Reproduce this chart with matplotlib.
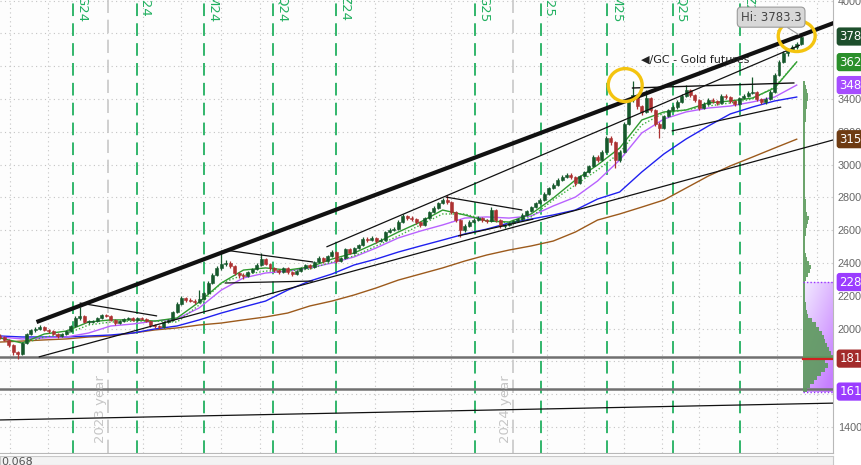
import numpy as np
import pandas as pd
import matplotlib
matplotlib.use('Agg')
import matplotlib.pyplot as plt
import matplotlib.dates as mdates
import matplotlib.transforms as mtransforms
from matplotlib.patches import Ellipse, Rectangle

plt.rcParams['font.family'] = ['DejaVu Sans']

# ---- data: /GC gold futures, 4-day candles ----
start = '2023-09-25'
first_open = 1955
closes = [1948, 1930, 1900, 1857, 1845, 1912, 1967, 1991, 1997, 2009,
          1991, 1985, 1967, 1954, 1967, 1985, 2015, 2064, 2076, 2040,
          2043, 2046, 2064, 2082, 2076, 2052, 2034, 2046, 2058, 2064,
          2052, 2064, 2060, 2046, 2021, 2015, 2009, 2040, 2052, 2101,
          2150, 2186, 2174, 2170, 2162, 2180, 2217, 2278, 2327, 2369,
          2394, 2398, 2381, 2339, 2327, 2322, 2345, 2363, 2388, 2424,
          2394, 2369, 2357, 2345, 2369, 2345, 2333, 2351, 2369, 2388,
          2375, 2406, 2430, 2412, 2442, 2467, 2412, 2430, 2485, 2461,
          2491, 2510, 2546, 2540, 2552, 2534, 2540, 2589, 2601, 2607,
          2650, 2686, 2674, 2668, 2650, 2631, 2674, 2711, 2735, 2766,
          2784, 2772, 2711, 2662, 2601, 2625, 2650, 2662, 2674, 2662,
          2656, 2723, 2662, 2625, 2631, 2644, 2656, 2668, 2693, 2717,
          2741, 2766, 2784, 2821, 2857, 2876, 2906, 2924, 2936, 2924,
          2888, 2930, 2955, 2991, 3046, 3028, 3077, 3162, 3138, 3028,
          3077, 3248, 3394, 3424, 3357, 3321, 3406, 3333, 3248, 3223,
          3296, 3333, 3351, 3382, 3418, 3455, 3424, 3394, 3345, 3370,
          3394, 3388, 3376, 3418, 3412, 3388, 3370, 3406, 3418, 3437,
          3443, 3400, 3382, 3400, 3443, 3546, 3626, 3681, 3699, 3717,
          3736, 3781]
highs = [1965, 1956, 1938, 1905, 1862, 1920, 1975, 2000, 2008, 2020,
         2015, 1998, 1992, 1972, 1975, 1993, 2022, 2075, 2131, 2085,
         2052, 2055, 2072, 2090, 2092, 2082, 2058, 2054, 2066, 2072,
         2070, 2071, 2073, 2066, 2050, 2028, 2020, 2046, 2060, 2110,
         2160, 2196, 2195, 2185, 2178, 2235, 2225, 2288, 2338, 2380,
         2479, 2420, 2410, 2388, 2348, 2340, 2352, 2372, 2398, 2460,
         2432, 2400, 2375, 2365, 2378, 2375, 2352, 2360, 2378, 2396,
         2395, 2415, 2440, 2436, 2450, 2478, 2472, 2438, 2494, 2492,
         2500, 2518, 2556, 2558, 2562, 2560, 2550, 2598, 2612, 2618,
         2660, 2700, 2692, 2685, 2676, 2656, 2682, 2720, 2745, 2775,
         2795, 2815, 2780, 2718, 2670, 2635, 2660, 2672, 2684, 2682,
         2670, 2740, 2728, 2668, 2640, 2652, 2664, 2676, 2702, 2726,
         2750, 2775, 2794, 2830, 2866, 2888, 2916, 2935, 2948, 2946,
         2930, 2938, 2964, 3000, 3060, 3058, 3088, 3175, 3172, 3145,
         3090, 3260, 3405, 3509, 3432, 3365, 3455, 3414, 3340, 3260,
         3305, 3342, 3362, 3392, 3428, 3486, 3462, 3430, 3400, 3380,
         3404, 3405, 3396, 3428, 3430, 3420, 3395, 3415, 3428, 3446,
         3534, 3450, 3408, 3410, 3452, 3558, 3640, 3692, 3712, 3728,
         3748, 3783.3]
lows = [1938, 1922, 1890, 1840, 1815, 1838, 1905, 1960, 1982, 1990,
        1984, 1975, 1958, 1945, 1948, 1960, 1978, 2010, 2055, 2032,
        2030, 2035, 2040, 2058, 2068, 2045, 2025, 2028, 2040, 2050,
        2044, 2046, 2052, 2038, 2012, 2005, 1996, 2002, 2034, 2047,
        2095, 2144, 2162, 2160, 2150, 2155, 2172, 2210, 2270, 2318,
        2360, 2380, 2368, 2325, 2310, 2305, 2315, 2338, 2355, 2380,
        2385, 2358, 2345, 2332, 2338, 2335, 2320, 2325, 2344, 2362,
        2365, 2368, 2400, 2402, 2405, 2436, 2400, 2405, 2424, 2452,
        2455, 2484, 2502, 2530, 2532, 2525, 2526, 2534, 2582, 2594,
        2600, 2644, 2662, 2655, 2640, 2620, 2625, 2668, 2705, 2728,
        2758, 2762, 2700, 2650, 2558, 2592, 2618, 2642, 2655, 2652,
        2645, 2650, 2652, 2615, 2615, 2624, 2638, 2650, 2662, 2686,
        2710, 2735, 2758, 2776, 2815, 2850, 2868, 2898, 2916, 2914,
        2870, 2880, 2922, 2948, 2985, 3015, 3020, 3070, 3120, 2979,
        3015, 3070, 3240, 3380, 3340, 3300, 3315, 3320, 3235, 3162,
        3215, 3288, 3325, 3342, 3375, 3410, 3415, 3380, 3330, 3338,
        3362, 3378, 3365, 3370, 3402, 3378, 3360, 3362, 3398, 3410,
        3428, 3390, 3370, 3372, 3394, 3436, 3538, 3618, 3665, 3690,
        3705, 3728]

# moving averages, sampled every 5th candle
ma_fast = [1943, 1912, 1967, 1985, 2040, 2053, 2053, 2046, 2065, 2162,
           2278, 2357, 2370, 2357, 2376, 2424, 2461, 2522, 2589, 2650,
           2723, 2693, 2656, 2650, 2699, 2796, 2906, 2998, 3101, 3272,
           3321, 3333, 3376, 3388, 3406, 3467, 3626]
ma_dotted = [1906, 1949, 1967, 2022, 2040, 2046, 2046, 2040, 2144, 2278,
             2327, 2351, 2351, 2363, 2406, 2443, 2504, 2565, 2632, 2699,
             2699, 2662, 2644, 2681, 2784, 2876, 2967, 3071, 3242, 3315,
             3333, 3357, 3376, 3400, 3473, 3625]
ma_50 = [1949, 1937, 1943, 1949, 1973, 2016, 2028, 2046, 2059, 2126,
         2235, 2309, 2339, 2351, 2370, 2400, 2437, 2492, 2553, 2595,
         2632, 2674, 2681, 2674, 2687, 2748, 2802, 2900, 3028, 3193,
         3278, 3321, 3345, 3357, 3382, 3412, 3485]
ma_100 = [1955, 1949, 1949, 1949, 1955, 1961, 1973, 1998, 2016, 2053,
          2095, 2132, 2168, 2235, 2290, 2333, 2388, 2424, 2467, 2504,
          2540, 2577, 2607, 2644, 2668, 2693, 2723, 2790, 2833, 2955,
          3065, 3156, 3235, 3309, 3351, 3388, 3412]
ma_200 = [1918, 1924, 1931, 1937, 1949, 1955, 1973, 1992, 2004, 2022,
          2034, 2053, 2071, 2095, 2138, 2168, 2205, 2248, 2296, 2333,
          2370, 2412, 2449, 2479, 2504, 2534, 2589, 2662, 2699, 2741,
          2784, 2857, 2930, 2992, 3046, 3101, 3155]

# drawn trendlines: (date0, price0, date1, price1, width)
trendlines = [
    ('2023-10-28', 2040, '2025-10-20', 3870, 3.0),
    ('2023-10-30', 1827, '2025-10-20', 3156, 0.9),
    ('2024-07-16', 2498, '2025-09-17', 3729, 0.9),
    ('2023-12-06', 2156, '2024-02-14', 2077, 0.9),
    ('2024-04-15', 2479, '2024-07-04', 2406, 0.9),
    ('2024-04-15', 2278, '2024-07-04', 2290, 0.9),
    ('2024-11-01', 2802, '2025-01-09', 2723, 0.9),
    ('2024-11-12', 2565, '2025-01-19', 2668, 0.9),
    ('2025-04-18', 3467, '2025-09-12', 3498, 1.0),
    ('2025-05-24', 3205, '2025-08-31', 3351, 0.9),
    ('2023-09-25', 1443, '2025-10-20', 1546, 0.9),
]
gray_levels = [1829, 1633]

roll_dates = ['2023-11-30', '2024-01-27', '2024-03-27', '2024-05-29', '2024-07-25',
              '2024-11-27', '2025-01-26', '2025-03-27', '2025-05-25', '2025-07-25']
roll_labels = ['G24', 'J24', 'M24', 'Q24', 'Z24', 'G25', 'J25', 'M25', 'Q25', 'Z25']
year_dates = ['2024-01-01', '2025-01-01']
year_labels = ['2023 year', '2024 year']
grid_dates = ['2023-10-04', '2023-11-07', '2024-02-01', '2024-03-07', '2024-04-12',
              '2024-05-17', '2024-06-24', '2024-08-29', '2024-10-02', '2024-11-06',
              '2025-01-31', '2025-03-06', '2025-04-11', '2025-05-15', '2025-06-18',
              '2025-08-27', '2025-10-02']

# volume profile (relative volume per 25-pt bin) and value area
prof_prices = np.arange(1625, 3501, 25)
prof_vol = [4, 7, 11, 14, 18, 22, 25, 22, 32, 28,
            26, 24, 22, 21, 19, 16, 13, 9, 5, 4,
            3, 3, 2, 2, 2, 2, 2, 3, 5, 7,
            8, 6, 4, 3, 2, 2, 2, 2, 3, 3,
            4, 5, 6, 4, 3, 3, 3, 2, 2, 2,
            2, 2, 2, 2, 2, 2, 2, 2, 2, 2,
            2, 2, 2, 2, 2, 2, 3, 3, 3, 4,
            4, 5, 5, 4, 3, 2]
va_high, va_low, poc = 2284, 1616, 1817

tag_prices = [3781, 3625, 3485, 3155, 2284, 1817, 1616]
tag_texts = ['3781.6', '3625.4', '3485.2', '3155.8', '2284.0', '1817.0', '1616.0']
tag_colors = ['#1d4f2c', '#2a8f2a', '#a64dff', '#6e3b12', '#9b3dff', '#a32b2b', '#9b3dff']

circles = [('2025-04-12', 3485, 30.7, 201), ('2025-09-14', 3784, 33.4, 189)]

# ---- figure ----
fig = plt.figure(figsize=(8.61, 4.65), dpi=100)
ax = fig.add_axes([0, 12 / 465, 833 / 861, 453 / 465])
ax.set_facecolor('#fdfdfd')
trans = mtransforms.blended_transform_factory(ax.transAxes, ax.transData)
trans_x = mtransforms.blended_transform_factory(ax.transData, ax.transAxes)

x = mdates.date2num(pd.date_range(start, periods=len(closes), freq='4D'))
x0 = mdates.date2num(pd.Timestamp(start))

# grid
for p in range(1400, 4001, 200):
    ax.axhline(p, color='#c4c4c4', lw=0.8, ls=(0, (1, 3)), zorder=0)
for d in grid_dates:
    ax.axvline(mdates.date2num(pd.Timestamp(d)), color='#c4c4c4', lw=0.8, ls=(0, (1, 3)), zorder=0)

# year separators
for d, lab in zip(year_dates, year_labels):
    xd = mdates.date2num(pd.Timestamp(d))
    ax.axvline(xd, color='#c8c8c8', lw=1.2, ls=(0, (8, 4)), zorder=1)
    ax.text(xd - 1, 1510, lab, rotation=90, ha='right', va='center',
            color='#c6c6c6', fontsize=9.5)

# contract roll lines
for d, lab in zip(roll_dates, roll_labels):
    xd = mdates.date2num(pd.Timestamp(d))
    ax.axvline(xd, color='#22b060', lw=1.3, ls=(0, (7, 4)), zorder=1)
    ax.text(xd + 2, 1.012, lab, rotation=270, ha='left', va='top', color='#22b060',
            fontsize=9.5, transform=trans_x, clip_on=False)

# horizontal levels
for p in gray_levels:
    ax.axhline(p, color='#707070', lw=1.8, zorder=2)

# moving averages
xs = x[::5]
ax.plot(xs, ma_200, color='#9c5a1c', lw=1.0, zorder=2)
ax.plot(xs, ma_100, color='#2020f0', lw=1.0, zorder=2)
ax.plot(xs, ma_50, color='#b861ff', lw=1.0, zorder=2)
ax.plot(xs, ma_fast, color='#2f9a2f', lw=1.0, zorder=2)
ax.plot(x[5::5], ma_dotted, color='#3cb03c', lw=1.0, ls=(0, (1, 1.5)), zorder=2)

# candles
closes_a = np.array(closes, dtype=float)
opens_a = np.r_[first_open, closes_a[:-1]]
up = closes_a >= opens_a
col = np.where(up, '#16592c', '#ad3232')
ax.vlines(x, lows, highs, colors=col, lw=0.9, zorder=3)
body = np.maximum(np.abs(closes_a - opens_a), 6)
ax.bar(x, body, bottom=np.minimum(opens_a, closes_a), width=2.7, color=col,
       edgecolor=col, lw=0.4, zorder=3)

# trendlines
for d0, p0, d1, p1, w in trendlines:
    ax.plot([mdates.date2num(pd.Timestamp(d0)), mdates.date2num(pd.Timestamp(d1))],
            [p0, p1], color='#111111', lw=w, solid_capstyle='butt', zorder=4)

# value area gradient + volume profile
px_left = 803 / 833
ny, nx = 60, 20
ty = np.linspace(0, 1, ny)[:, None]
tx = np.linspace(0, 1, nx)[None, :]
w = np.clip(0.65 * ty + 0.45 * tx, 0, 1)
c_light = np.array([0.95, 0.92, 1.0])
c_dark = np.array([0.78, 0.50, 1.0])
grad = c_light[None, None, :] * (1 - w[..., None]) + c_dark[None, None, :] * w[..., None]
ax.imshow(grad, extent=(px_left, 1.0, va_low, va_high), transform=trans,
          aspect='auto', origin='upper', zorder=1.5, interpolation='bilinear')
ax.plot([px_left, 1.0], [va_high, va_high], color='#9933ff', lw=1.0, ls=(0, (1, 1.5)),
        transform=trans, zorder=5)
ax.plot([px_left, 1.0], [va_low, va_low], color='#9933ff', lw=1.0, ls=(0, (1, 1.5)),
        transform=trans, zorder=5)
for p, v in zip(prof_prices, prof_vol):
    ax.add_patch(Rectangle((px_left, p - 12.5), v / 833, 25, transform=trans,
                           facecolor='#5c9a5c', edgecolor='none', alpha=0.9, zorder=2.5))
ax.plot([px_left, 1.0], [poc, poc], color='#d02020', lw=1.6, transform=trans, zorder=5)

# circles
for d, p, wd, hp in circles:
    ax.add_patch(Ellipse((mdates.date2num(pd.Timestamp(d)), p), wd, hp, fill=False,
                         edgecolor='#f4c40f', lw=2.4, zorder=6))

# annotations
ax.annotate('Hi: 3783.3', xy=(x[-1], 3783.3), xytext=(-30, 19), textcoords='offset pixels',
            ha='center', va='center', fontsize=8.5, color='#444444',
            bbox=dict(boxstyle='round,pad=0.3,rounding_size=0.35', fc='#d8d8d8', ec='#9a9a9a', lw=0.8),
            arrowprops=dict(arrowstyle='-', color='#9a9a9a', lw=0.8, shrinkA=0, shrinkB=2),
            zorder=7)
ax.text(641 / 833, 1 - 60 / 453, '\u25C0/GC - Gold futures', transform=ax.transAxes,
        ha='left', va='center', fontsize=8, color='#222222', zorder=7)

# price tags
for p, t, c in zip(tag_prices, tag_texts, tag_colors):
    ax.text(1.0075, p, t, transform=trans, ha='left', va='center', color='white',
            fontsize=8.5, clip_on=False, zorder=8,
            bbox=dict(boxstyle='round,pad=0.22,rounding_size=0.25', fc=c, ec='none'))

# axes
ax.set_xlim(x0, x0 + 752.8)
ax.set_ylim(1241.5, 4003.7)
ax.yaxis.tick_right()
ax.set_yticks(range(1400, 4001, 200))
ax.tick_params(axis='y', length=0, pad=3.5, labelsize=7.8, labelcolor='#666666')
for lab in ax.get_yticklabels():
    lab.set_fontfamily('Liberation Sans')
ax.set_xticks([])
for s in ['top', 'left']:
    ax.spines[s].set_visible(False)
ax.spines['right'].set_color('#b8b8b8')
ax.spines['bottom'].set_color('#b8b8b8')

# lower study strip
ax2 = fig.add_axes([0, 0, 833 / 861, 9 / 465])
ax2.set_facecolor('#f3f3f3')
ax2.set_xticks([])
ax2.set_yticks([])
for s in ax2.spines.values():
    s.set_color('#c8c8c8')
ax2.axvline(0.036, color='#c8c8c8', lw=1)
ax2.text(0.002, 0.3, '0.068', transform=ax2.transAxes, ha='left', va='center',
         fontsize=8, color='#555555')

fig.savefig('out.png', dpi=100)
